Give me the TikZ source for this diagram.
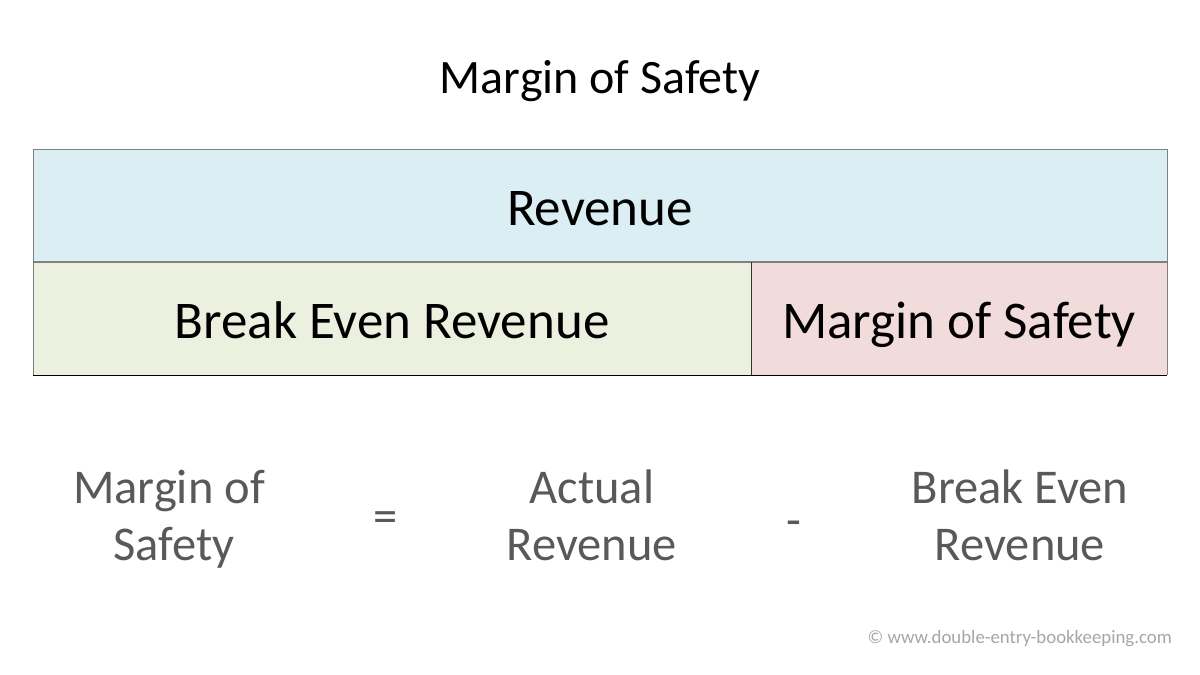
\documentclass[tikz,border=0pt]{standalone}
\usepackage{fontspec}
\setmainfont{Carlito}
\definecolor{revblue}{HTML}{DAEEF3}
\definecolor{bergreen}{HTML}{EBF1DE}
\definecolor{mospink}{HTML}{F2DCDB}
\definecolor{frmgray}{HTML}{595959}
\definecolor{ftgray}{HTML}{A6A6A6}
\definecolor{edgegray}{HTML}{7F7F7F}
\begin{document}
\begin{tikzpicture}[x=1pt,y=-1pt,
  big/.style={font=\fontsize{53}{58}\selectfont, inner sep=0pt, anchor=base},
  title/.style={font=\fontsize{48}{52}\selectfont, inner sep=0pt, anchor=base},
  frm/.style={font=\fontsize{48.5}{55}\selectfont, text=frmgray, inner sep=0pt, anchor=base},
  foot/.style={font=\fontsize{18.8}{20}\selectfont, text=ftgray, inner sep=0pt, anchor=base east}]
\useasboundingbox (0,0) rectangle (1200,675);
\fill[white] (0,0) rectangle (1200,675);
% boxes
\fill[revblue] (33,149) rectangle (1167,262);
\fill[bergreen] (33,262) rectangle (751,375);
\fill[mospink] (751,262) rectangle (1167,375);
\draw[edgegray, line width=1pt] (33,375) -- (33,149) -- (1167,149) -- (1167,375);
\draw[edgegray, line width=1.5pt] (33,262) -- (1167,262);
\draw[black!80, line width=1pt] (751,262) -- (751,375);
\draw[black, line width=1pt] (33,375) -- (1167,375);
% texts
\node[title] (t) at (600,93) {Margin of Safety};
\node[big] (rev) at (600,225) {Revenue};
\node[big] (ber) at (392,338) {Break Even Revenue};
\node[big] (mos) at (959,338) {Margin of Safety};
% formula
\node[frm] (f1a) at (169,503) {Margin of};
\node[frm] (f1b) at (174,560) {Safety};
\node[frm] (eq) at (386,532) {=};
\node[frm] (f2a) at (592,503) {Actual};
\node[frm] (f2b) at (592,560) {Revenue};
\node[frm] (mi) at (794,536) {-};
\node[frm] (f3a) at (1020,503) {Break Even};
\node[frm] (f3b) at (1020,560) {Revenue};
\node[foot] (ft) at (1172,643) {© www.double-entry-bookkeeping.com};
\end{tikzpicture}
\end{document}
